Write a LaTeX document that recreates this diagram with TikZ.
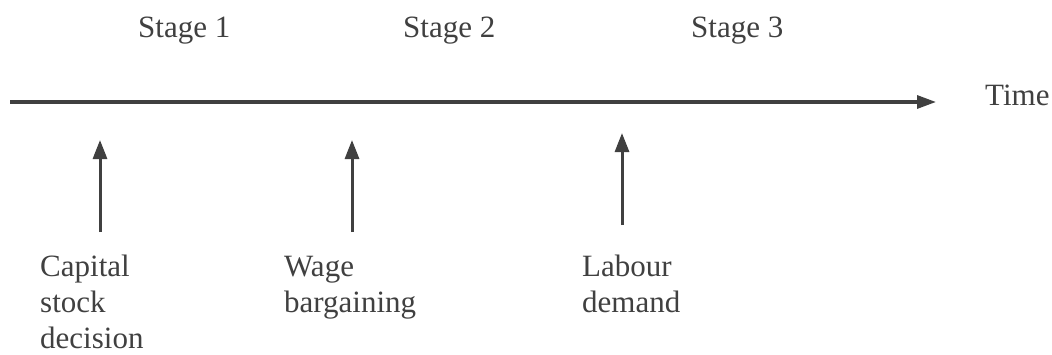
\documentclass[tikz,border=0pt]{standalone}
\usepackage{fontspec}
\setmainfont{Liberation Serif}
\usetikzlibrary{arrows.meta}
\definecolor{ink}{HTML}{404040}
\begin{document}
\begin{tikzpicture}[x=1pt,y=-1pt,
  lbl/.style={anchor=base west,inner sep=0pt,text=ink,font=\fontsize{31}{36}\selectfont,align=left},
  axisline/.style={draw=ink,line width=3.2pt,-{Triangle[length=19pt,width=13pt]}},
  event/.style={draw=ink,line width=3pt,-{Triangle[length=19pt,width=14pt]}}]
\useasboundingbox (0,0) rectangle (1052,354);
\coordinate (a0) at (10,102);
\coordinate (a1) at (936,102);
\draw[axisline] (a0) -- (a1);
\node[lbl] (time) at (985,105) {Time};
\node[lbl] (s1) at (138,37) {Stage 1};
\node[lbl] (s2) at (403,37) {Stage 2};
\node[lbl] (s3) at (691,37) {Stage 3};
\coordinate (b1) at (100,232); \coordinate (t1) at (100,140);
\coordinate (b2) at (352,232); \coordinate (t2) at (352,140);
\coordinate (b3) at (622,225); \coordinate (t3) at (622,133);
\draw[event] (b1) -- (t1);
\draw[event] (b2) -- (t2);
\draw[event] (b3) -- (t3);
\node[lbl] (l1) at (40,348) {Capital\\stock\\decision};
\node[lbl] (l2) at (284,312) {Wage\\bargaining};
\node[lbl] (l3) at (582,312) {Labour\\demand};
\end{tikzpicture}
\end{document}
